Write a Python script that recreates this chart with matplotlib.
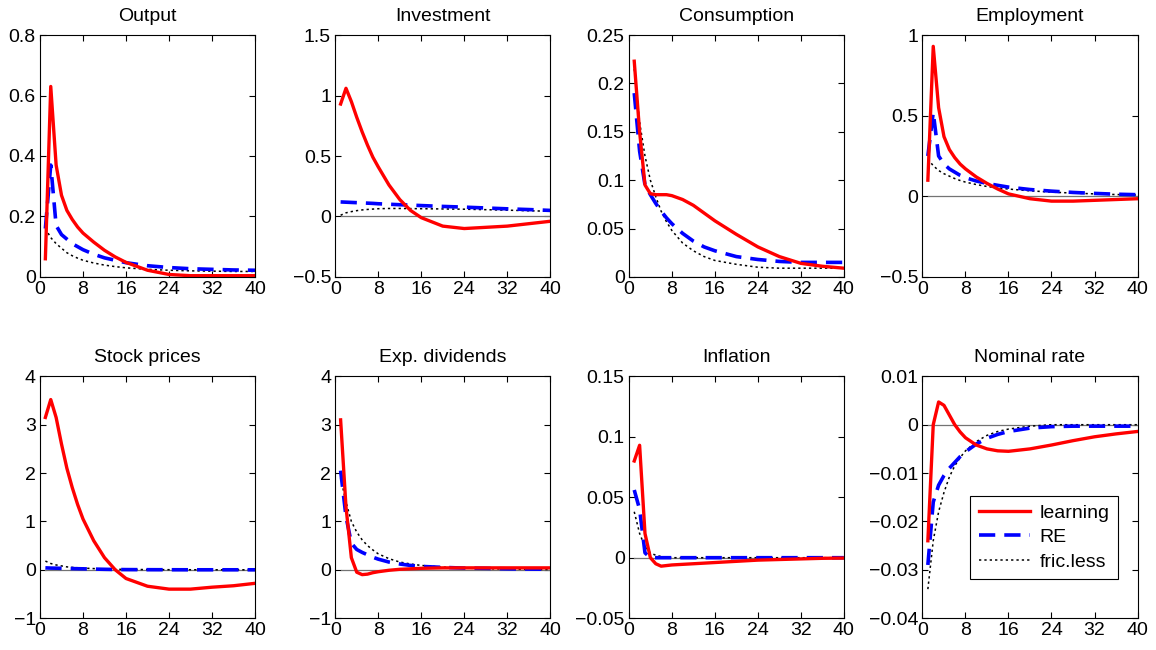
import matplotlib.pyplot as plt
from matplotlib.ticker import FuncFormatter

plt.rcParams['font.family'] = ['Liberation Sans', 'DejaVu Sans']

t = [1, 2, 3, 4, 5, 6, 7, 8, 10, 12, 14, 16, 20, 24, 28, 32, 36, 40]

titles = ["Output", "Investment", "Consumption", "Employment",
          "Stock prices", "Exp. dividends", "Inflation", "Nominal rate"]

# learning
output_l = [0.06, 0.63, 0.37, 0.27, 0.22, 0.19, 0.165, 0.145, 0.115, 0.088, 0.066, 0.048, 0.022, 0.008, 0.004, 0.004, 0.004, 0.004]
invest_l = [0.93, 1.06, 0.95, 0.82, 0.70, 0.59, 0.49, 0.41, 0.26, 0.14, 0.05, -0.01, -0.08, -0.10, -0.09, -0.08, -0.06, -0.04]
cons_l = [0.223, 0.15, 0.095, 0.086, 0.085, 0.085, 0.085, 0.084, 0.08, 0.074, 0.066, 0.058, 0.044, 0.031, 0.021, 0.014, 0.011, 0.009]
empl_l = [0.10, 0.93, 0.55, 0.37, 0.29, 0.24, 0.20, 0.17, 0.12, 0.08, 0.045, 0.015, -0.015, -0.03, -0.03, -0.025, -0.02, -0.015]
stock_l = [3.15, 3.52, 3.15, 2.6, 2.1, 1.7, 1.35, 1.05, 0.6, 0.25, 0.0, -0.18, -0.34, -0.40, -0.40, -0.36, -0.33, -0.28]
div_l = [3.1, 1.3, 0.25, -0.05, -0.10, -0.09, -0.06, -0.04, -0.01, 0.01, 0.02, 0.03, 0.04, 0.04, 0.04, 0.04, 0.04, 0.04]
infl_l = [0.08, 0.093, 0.02, 0.0, -0.005, -0.007, -0.0065, -0.006, -0.0055, -0.005, -0.0045, -0.004, -0.003, -0.002, -0.0015, -0.001, -0.0005, -0.0003]
rate_l = [-0.024, 0.0, 0.0047, 0.004, 0.002, 0.0, -0.0015, -0.0027, -0.0042, -0.005, -0.0054, -0.0055, -0.005, -0.0042, -0.0033, -0.0025, -0.0019, -0.0014]

# rational expectations
output_re = [0.16, 0.37, 0.17, 0.14, 0.125, 0.11, 0.10, 0.09, 0.075, 0.063, 0.055, 0.047, 0.037, 0.031, 0.027, 0.025, 0.023, 0.022]
invest_re = [0.12, 0.118, 0.116, 0.114, 0.112, 0.11, 0.108, 0.105, 0.101, 0.097, 0.094, 0.09, 0.083, 0.077, 0.07, 0.063, 0.057, 0.05]
cons_re = [0.19, 0.13, 0.095, 0.085, 0.076, 0.068, 0.061, 0.055, 0.045, 0.037, 0.031, 0.027, 0.021, 0.018, 0.016, 0.015, 0.015, 0.015]
empl_re = [0.25, 0.52, 0.25, 0.20, 0.17, 0.15, 0.13, 0.115, 0.095, 0.08, 0.068, 0.057, 0.042, 0.032, 0.024, 0.018, 0.013, 0.01]
stock_re = [0.04, 0.035, 0.033, 0.03, 0.028, 0.025, 0.022, 0.02, 0.015, 0.01, 0.006, 0.004, 0.002, 0.001, 0.0, 0.0, 0.0, 0.0]
div_re = [2.05, 1.1, 0.55, 0.42, 0.36, 0.31, 0.26, 0.22, 0.16, 0.12, 0.09, 0.07, 0.05, 0.035, 0.03, 0.02, 0.015, 0.01]
infl_re = [0.056, 0.04, 0.004, 0.0, 0.0, 0.0, 0.0, 0.0, 0.0, 0.0, 0.0, 0.0, 0.0, 0.0, 0.0, 0.0, 0.0, 0.0]
rate_re = [-0.029, -0.016, -0.0125, -0.0105, -0.009, -0.0078, -0.0066, -0.0056, -0.004, -0.0028, -0.002, -0.0014, -0.0007, -0.0004, -0.0003, -0.0003, -0.0003, -0.0003]

# frictionless
output_fl = [0.16, 0.13, 0.11, 0.095, 0.08, 0.07, 0.062, 0.055, 0.046, 0.039, 0.034, 0.030, 0.025, 0.022, 0.020, 0.019, 0.018, 0.018]
invest_fl = [0.01, 0.03, 0.04, 0.048, 0.054, 0.058, 0.061, 0.064, 0.066, 0.066, 0.065, 0.064, 0.062, 0.06, 0.056, 0.052, 0.047, 0.043]
cons_fl = [0.215, 0.16, 0.125, 0.10, 0.083, 0.068, 0.057, 0.048, 0.035, 0.027, 0.021, 0.017, 0.013, 0.010, 0.009, 0.009, 0.009, 0.009]
empl_fl = [0.23, 0.19, 0.16, 0.14, 0.125, 0.11, 0.098, 0.088, 0.073, 0.061, 0.052, 0.045, 0.034, 0.026, 0.02, 0.015, 0.011, 0.008]
stock_fl = [0.18, 0.13, 0.10, 0.08, 0.06, 0.05, 0.042, 0.035, 0.025, 0.015, 0.011, 0.008, 0.004, 0.002, 0.001, 0.0, 0.0, 0.0]
div_fl = [1.9, 1.4, 1.0, 0.78, 0.62, 0.5, 0.41, 0.33, 0.23, 0.16, 0.12, 0.09, 0.055, 0.035, 0.022, 0.015, 0.01, 0.005]
infl_fl = [0.038, 0.02, 0.009, 0.004, 0.002, 0.001, 0.0005, 0.0, 0.0, 0.0, 0.0, 0.0, 0.0, 0.0, 0.0, 0.0, 0.0, 0.0]
rate_fl = [-0.034, -0.024, -0.018, -0.014, -0.0108, -0.0085, -0.0068, -0.0054, -0.0035, -0.0022, -0.0014, -0.0009, -0.0003, 0.0, 0.0, 0.0, 0.0, 0.0]

learning = [output_l, invest_l, cons_l, empl_l, stock_l, div_l, infl_l, rate_l]
re = [output_re, invest_re, cons_re, empl_re, stock_re, div_re, infl_re, rate_re]
fricless = [output_fl, invest_fl, cons_fl, empl_fl, stock_fl, div_fl, infl_fl, rate_fl]

yticks = [[0, 0.2, 0.4, 0.6, 0.8],
          [-0.5, 0, 0.5, 1, 1.5],
          [0, 0.05, 0.1, 0.15, 0.2, 0.25],
          [-0.5, 0, 0.5, 1],
          [-1, 0, 1, 2, 3, 4],
          [-1, 0, 1, 2, 3, 4],
          [-0.05, 0, 0.05, 0.1, 0.15],
          [-0.04, -0.03, -0.02, -0.01, 0, 0.01]]

fig = plt.figure(figsize=(11.56, 6.5), dpi=100)
lefts = [0.0346, 0.290, 0.544, 0.798]
bottoms = [0.574, 0.049]
w, h = 0.186, 0.372

fmt = FuncFormatter(lambda v, p: ('%g' % round(v, 6)).replace('-', '\u2212'))

for i in range(8):
    ax = fig.add_axes([lefts[i % 4], bottoms[i // 4], w, h])
    ax.plot([1, 40], [0, 0], color='0.45', lw=0.9)
    ax.plot(t, fricless[i], color='black', lw=1.1, ls=(0, (1.5, 2)), label='fric.less')
    ax.plot(t, re[i], color='blue', lw=2.6, ls=(0, (4.5, 2.5)), label='RE')
    ax.plot(t, learning[i], color='red', lw=2.4, label='learning')
    ax.set_xlim(0, 40)
    ax.set_xticks(range(0, 41, 8))
    ax.set_yticks(yticks[i])
    ax.set_ylim(yticks[i][0], yticks[i][-1])
    ax.yaxis.set_major_formatter(fmt)
    ax.tick_params(direction='in', top=True, right=True, length=4, labelsize=14, pad=3)
    ax.set_title(titles[i], fontsize=14, pad=10)
    if i == 7:
        hs, ls = ax.get_legend_handles_labels()
        leg = ax.legend(hs[::-1], ls[::-1], loc='lower right', bbox_to_anchor=(0.91, 0.16),
                        borderaxespad=0, fontsize=14, fancybox=False, edgecolor='black',
                        framealpha=1, handlelength=2.6, labelspacing=0.35, borderpad=0.45,
                        handletextpad=0.5)
        leg.get_frame().set_linewidth(0.8)

fig.savefig('out.png', dpi=100)
